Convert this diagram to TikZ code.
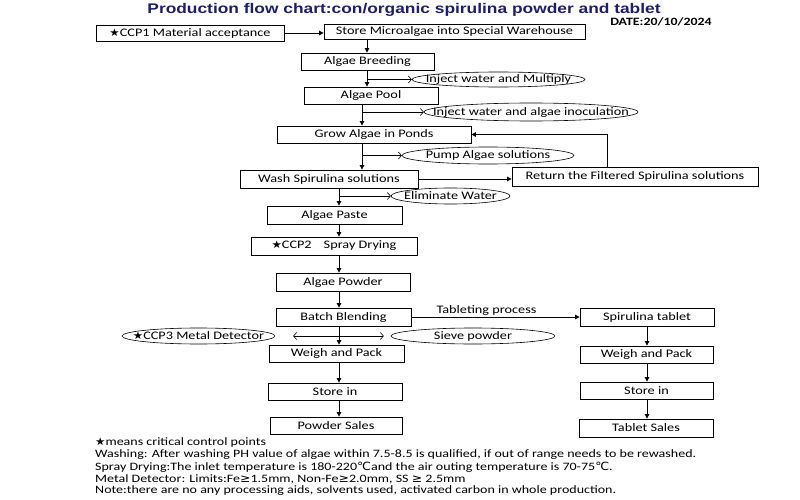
\documentclass[tikz,border=0pt]{standalone}
\usepackage{fontspec}
\setmainfont{Carlito}[FakeStretch=1.24]
\newfontfamily\titlefont{Liberation Sans}[FakeStretch=1.24]
\newfontfamily\symfont{DejaVu Sans}[FakeStretch=1.1]
\usetikzlibrary{arrows.meta}
\definecolor{titleblue}{RGB}{30,30,110}
\newcommand{\cstar}{{\symfont\fontsize{10.5}{10}\selectfont ★}}
\newcommand{\degcel}{{\symfont ℃}}
\newcommand{\gesym}{{\symfont ≥}}
\begin{document}
\begin{tikzpicture}[x=1pt,y=-1pt,
  box/.style={draw, line width=0.8pt, inner sep=0pt, font=\fontsize{11.5}{13}\selectfont},
  lbl/.style={inner sep=0pt, font=\fontsize{11.5}{13}\selectfont},
  flow/.style={line width=0.8pt, -{Triangle[length=4.5pt,width=4.5pt]}},
  side/.style={line width=0.6pt, -{Straight Barb[length=3pt,width=7pt]}},
  both/.style={line width=0.6pt, {Straight Barb[length=3pt,width=7pt]}-{Straight Barb[length=3pt,width=7pt]}},
  oval/.style={line width=0.6pt},
  note/.style={anchor=west, inner sep=0pt, font=\fontsize{11.3}{12}\selectfont}
]
\useasboundingbox (0,0) rectangle (800,500);
\fill[white] (0,0) rectangle (800,500);

% title
\node[inner sep=0pt, text=titleblue, font=\titlefont\bfseries\fontsize{14}{16}\selectfont] (title) at (404,10) {Production flow chart:con/organic spirulina powder and tablet};
\node[inner sep=0pt, font=\bfseries\fontsize{11.2}{13}\selectfont] (date) at (661,22) {DATE:20/10/2024};

% column coordinates
\coordinate (c1) at (367,0);
\coordinate (c2) at (362,0);
\coordinate (c3) at (339,0);
\coordinate (c4) at (647,0);
\coordinate (rx) at (607,0);

% boxes
\node[box, minimum width=188pt, minimum height=16pt] (ccp1) at (190,33) {\cstar CCP1 Material acceptance};
\node[box, minimum width=261pt, minimum height=15pt] (store) at (454.5,31.5) {Store Microalgae into Special Warehouse};
\node[box, minimum width=133pt, minimum height=17pt] (breed) at (367.5,61.5) {Algae Breeding};
\node[box, minimum width=134pt, minimum height=17pt] (pool) at (371,95.5) {Algae Pool};
\node[box, minimum width=194pt, minimum height=17pt] (grow) at (374,134.5) {Grow Algae in Ponds};
\node[box, minimum width=178pt, minimum height=18pt] (wash) at (329,179) {Wash Spirulina solutions};
\node[box, minimum width=246pt, minimum height=19pt] (ret) at (635,176.5) {Return the Filtered Spirulina solutions};
\node[box, minimum width=135pt, minimum height=18pt] (paste) at (334.5,215) {Algae Paste};
\node[box, minimum width=166pt, minimum height=18pt] (ccp2) at (334,246) {\cstar CCP2\hspace{12pt}Spray Drying};
\node[box, minimum width=134pt, minimum height=18pt] (powder) at (343,282) {Algae Powder};
\node[box, minimum width=135pt, minimum height=18pt] (batch) at (343.5,317) {Batch Blending};
\node[box, minimum width=134pt, minimum height=18pt] (tablet) at (647,317) {Spirulina tablet};
\node[box, minimum width=135pt, minimum height=17pt] (weighL) at (336.5,353.5) {Weigh and Pack};
\node[box, minimum width=134pt, minimum height=17pt] (storeL) at (335,391.5) {Store in};
\node[box, minimum width=132pt, minimum height=17pt] (salesP) at (336,425.5) {Powder Sales};
\node[box, minimum width=133pt, minimum height=17pt] (weighR) at (646.5,354.5) {Weigh and Pack};
\node[box, minimum width=133pt, minimum height=17pt] (storeR) at (646.5,390.5) {Store in};
\node[box, minimum width=134pt, minimum height=18pt] (salesT) at (646,428) {Tablet Sales};

% ellipses
\node[lbl, minimum width=173pt, minimum height=15pt] (mult) at (498.5,79.5) {Inject water and Multiply};
\draw[oval] (mult.center) ellipse [x radius=86.5pt, y radius=7.5pt];
\node[lbl, minimum width=214pt, minimum height=18pt] (inoc) at (531,112) {Inject water and algae inoculation};
\draw[oval] (inoc.center) ellipse [x radius=107pt, y radius=9pt];
\node[lbl, minimum width=172pt, minimum height=17pt] (pump) at (488,155.5) {Pump Algae solutions};
\draw[oval] (pump.center) ellipse [x radius=86pt, y radius=8.5pt];
\node[lbl, minimum width=119pt, minimum height=16pt] (elim) at (450.5,196) {Eliminate Water};
\draw[oval] (elim.center) ellipse [x radius=59.5pt, y radius=8pt];
\node[lbl, minimum width=153pt, minimum height=16pt] (ccp3) at (198.5,336) {\cstar CCP3 Metal Detector};
\draw[oval] (ccp3.center) ellipse [x radius=76.5pt, y radius=8pt];
\node[lbl, minimum width=164pt, minimum height=16pt] (sieve) at (473,336) {Sieve powder};
\draw[oval] (sieve.center) ellipse [x radius=82pt, y radius=8pt];

% connectors
\draw[flow] (ccp1.east) -- (store.west |- ccp1.east);
\draw[flow] (store.south -| c1) -- (breed.north -| c1);
\draw[flow] (breed.south -| c1) -- (pool.north -| c1);
\draw[side] (c1 |- mult.west) -- (mult.west);
\draw[flow] (pool.south -| c2) -- (grow.north -| c2);
\draw[side] (c2 |- inoc.west) -- (inoc.west);
\draw[flow] (grow.south -| c2) -- (wash.north -| c2);
\draw[side] (c2 |- pump.west) -- (pump.west);
\draw[flow] (wash.east) -- (wash.east -| ret.west);
\draw[flow] (ret.north -| rx) |- (grow.east);
\draw[flow] (wash.south -| c3) -- (paste.north -| c3);
\draw[side] (c3 |- elim.west) -- (elim.west);
\draw[flow] (paste.south -| c3) -- (ccp2.north -| c3);
\draw[flow] (ccp2.south -| c3) -- (powder.north -| c3);
\draw[flow] (powder.south -| c3) -- (batch.north -| c3);
\draw[flow] (batch.south -| c3) -- (weighL.north -| c3);
\draw[both, shorten <=18pt, shorten >=7pt] (ccp3.east) -- (sieve.west);
\draw[flow] (weighL.south -| c3) -- (storeL.north -| c3);
\draw[flow] (storeL.south -| c3) -- (salesP.north -| c3);
\draw[flow] (batch.east) -- (tablet.west);
\node[lbl] (tab) at (486.5,310) {Tableting process};
\draw[flow] (tablet.south -| c4) -- (weighR.north -| c4);
\draw[flow] (weighR.south -| c4) -- (storeR.north -| c4);
\draw[flow] (storeR.south -| c4) -- (salesT.north -| c4);

% notes
\node[note] (n1) at (95,442) {\cstar means critical control points};
\node[note] (n2) at (95,455) {Washing: After washing PH value of algae within 7.5-8.5 is qualified, if out of range needs to be rewashed.};
\node[note] (n3) at (95,467) {Spray Drying:The inlet temperature is 180-220\degcel and the air outing temperature is 70-75\degcel.};
\node[note] (n4) at (95,479) {Metal Detector: Limits:Fe\gesym1.5mm, Non-Fe\gesym2.0mm, SS \gesym{} 2.5mm};
\node[note] (n5) at (95,491) {Note:there are no any processing aids, solvents used, activated carbon in whole production.};
\end{tikzpicture}
\end{document}
